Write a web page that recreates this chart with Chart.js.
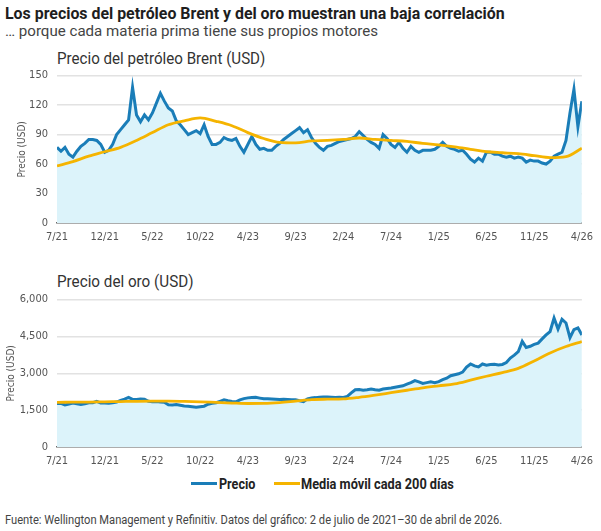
<!DOCTYPE html>
<html>
<head>
<meta charset="utf-8">
<script src="https://cdn.jsdelivr.net/npm/chart.js@4"></script>
<style>
  body { margin: 0; background: #fff; font-family: Roboto, "DejaVu Sans Condensed", sans-serif; }
  #page { position: relative; width: 601px; height: 531px; overflow: hidden; }
  .abs { position: absolute; white-space: nowrap; transform-origin: 0 0; line-height: 1; }
  #title { left: 5px; top: 6px; font-size: 16.5px; font-weight: bold; color: #1e1e1e; }
  #subtitle { left: 5px; top: 24px; font-size: 15px; color: #444; }
  .ctitle { left: 57px; font-size: 16px; color: #333; }
  .leg { top: 477px; font-size: 14px; font-weight: bold; color: #222; }
  .sw { top: 482px; width: 26px; height: 3px; }
  #source { left: 5px; top: 514px; font-size: 12.5px; color: #444; }
</style>
</head>
<body>
<div id="page">
  <div class="abs" id="title" data-w="500">Los precios del petróleo Brent y del oro muestran una baja correlación</div>
  <div class="abs" id="subtitle" data-w="373">… porque cada materia prima tiene sus propios motores</div>

  <div class="abs ctitle" style="top:51px" data-w="208">Precio del petróleo Brent (USD)</div>
  <canvas class="abs" id="chart_oil" width="601" height="190" style="left:0;top:60px"></canvas>

  <div class="abs ctitle" style="top:274px" data-w="136">Precio del oro (USD)</div>
  <canvas class="abs" id="chart_gold" width="601" height="190" style="left:0;top:284px"></canvas>

  <div class="abs sw" style="left:191px;background:#1a7db8"></div>
  <div class="abs leg" style="left:219px" data-w="36">Precio</div>
  <div class="abs sw" style="left:274px;background:#f5b400"></div>
  <div class="abs leg" style="left:301px" data-w="153">Media móvil cada 200 días</div>

  <div class="abs" id="source" data-w="497">Fuente: Wellington Management y Refinitiv. Datos del gráfico: 2 de julio de 2021–30 de abril de 2026.</div>
</div>

<script>
// x tick labels, one every 12 samples
const tickLabels = ['7/21', '12/21', '5/22', '10/22', '4/23', '9/23', '2/24', '7/24', '1/25', '6/25', '11/25', '4/26'];

// Brent price, sampled evenly along the x axis (133 samples)
const oilPrice = [
  77, 73, 77, 70, 67, 73, 78, 81, 85, 85, 84, 80,
  72, 74, 80, 90, 95, 100, 105, 138, 110, 103, 110, 105,
  112, 122, 132, 124, 117, 114, 104, 100, 95, 90, 92, 94,
  91, 100, 88, 80, 80, 82, 87, 85, 84, 86, 78, 72,
  80, 88, 80, 75, 76, 74, 74, 78, 81, 85, 88, 91,
  94, 97, 92, 95, 87, 81, 77, 74, 78, 79, 81, 83,
  84, 85, 86, 88, 93, 89, 85, 82, 80, 76, 90, 86,
  80, 77, 82, 76, 72, 78, 74, 72, 74, 74, 74, 75,
  78, 82, 78, 76, 75, 73, 74, 70, 65, 62, 66, 63,
  72, 72, 70, 70, 68, 67, 68, 66, 67, 66, 62, 64,
  63, 63, 61, 60, 63, 68, 70, 72, 84, 112, 136, 98,
  124
];

// Brent 200-day moving average, every 4th sample
const oilAvgX = [0, 4, 8, 12, 16, 20, 24, 28, 32, 36, 40, 44, 48, 52, 56, 60, 64,
                 68, 72, 76, 80, 84, 88, 92, 96, 100, 104, 108, 112, 116, 120, 124, 128, 132];
const oilAvg = [58, 62.5, 68, 72.5, 77, 84, 92, 100, 104, 107, 103.5, 99, 92, 86, 82, 81.5, 83.5,
                84, 85, 86.5, 85, 84, 83, 81, 79.5, 77.5, 75, 72.5, 71.5, 70.5, 68.5, 66.5, 67.5, 76];

// gold price, same sampling
const goldPrice = [
  1770, 1780, 1710, 1750, 1790, 1760, 1730, 1760, 1800, 1800, 1860, 1790,
  1790, 1780, 1800, 1830, 1900, 1950, 2020, 1940, 1930, 1950, 1940, 1860,
  1840, 1850, 1830, 1820, 1720, 1710, 1730, 1700, 1670, 1660, 1640, 1620,
  1640, 1660, 1740, 1780, 1800, 1860, 1920, 1880, 1850, 1840, 1920, 1970,
  2000, 2010, 2020, 1990, 1960, 1960, 1950, 1940, 1930, 1940, 1930, 1920,
  1920, 1880, 1850, 1960, 2000, 2010, 2030, 2040, 2040, 2030, 2020, 2030,
  2020, 2060, 2200, 2330, 2340, 2310, 2330, 2360, 2330, 2310, 2360, 2380,
  2400, 2430, 2460, 2490, 2560, 2620, 2700, 2650, 2590, 2620, 2650, 2620,
  2660, 2740, 2800, 2900, 2940, 2980, 3050, 3250, 3380, 3300, 3260, 3380,
  3330, 3360, 3370, 3340, 3360, 3440, 3620, 3740, 3880, 4300, 4050, 4100,
  4180, 4230, 4400, 4560, 4700, 5250, 4800, 5200, 5050, 4450, 4780, 4850,
  4560
];

// gold 200-day moving average
const goldAvgX = oilAvgX;
const goldAvg = [1820, 1825, 1830, 1840, 1850, 1860, 1865, 1865, 1855, 1840, 1815, 1790, 1770, 1775, 1810, 1870, 1930,
                 1945, 1955, 2020, 2110, 2210, 2310, 2410, 2490, 2570, 2720, 2880, 3030, 3200, 3500, 3830, 4090, 4290];

const FONT = '"DejaVu Sans Condensed", Roboto, sans-serif';
const BLUE = '#1a7db8';
const ORANGE = '#f5b400';

// squeeze html labels to the reference text widths (condensed face is not installed)
document.querySelectorAll('[data-w]').forEach(el => {
    const r = parseFloat(el.dataset.w) / el.offsetWidth;
    el.style.transform = 'scaleX(' + r + ')';
});

const toPoints = (xs, ys) => ys.map((y, i) => ({ x: xs ? xs[i] : i, y: y }));

const drawChart = (id, price, avgX, avg, yMax, yStep, yFmt, titlePad, topPad) => {
    new Chart(id, {
        type: 'line',
        data: {
            datasets: [
                {
                    label: 'Media móvil cada 200 días',
                    data: toPoints(avgX, avg),
                    borderColor: ORANGE,
                    borderWidth: 2.8,
                    fill: false,
                    cubicInterpolationMode: 'monotone'
                },
                {
                    label: 'Precio',
                    data: toPoints(null, price),
                    borderColor: BLUE,
                    borderWidth: 3,
                    backgroundColor: '#dcf3fa',
                    fill: 'origin',
                    tension: 0
                }
            ]
        },
        options: {
            responsive: false,
            animation: false,
            devicePixelRatio: 1,
            layout: { padding: { top: topPad, right: 15 } },
            elements: { point: { radius: 0 } },
            plugins: {
                legend: { display: false },
                tooltip: { enabled: false }
            },
            scales: {
                x: {
                    type: 'linear',
                    min: 0,
                    max: 132,
                    grid: { display: false, drawTicks: false },
                    border: { display: true, color: '#6b6b6b', width: 1.5 },
                    ticks: {
                        stepSize: 12,
                        padding: 8,
                        maxRotation: 0,
                        color: '#555',
                        font: { family: FONT, size: 11 },
                        callback: (value) => tickLabels[value / 12]
                    },
                    afterFit: (scale) => { scale.height = 27; }
                },
                y: {
                    min: 0,
                    max: yMax,
                    grid: { color: '#e2e2e2', lineWidth: 1.5, drawTicks: false },
                    border: { display: false },
                    ticks: {
                        stepSize: yStep,
                        padding: 9,
                        color: '#555',
                        font: { family: FONT, size: 11 },
                        callback: yFmt
                    },
                    title: {
                        display: true,
                        text: 'Precio (USD)',
                        color: '#555',
                        font: { family: FONT, size: 10 },
                        padding: { top: titlePad, bottom: 0 }
                    },
                    afterFit: (scale) => { scale.width = 57; }
                }
            }
        }
    });
};

drawChart('chart_oil', oilPrice, oilAvgX, oilAvg, 150, 30, (v) => v, 16, 11);
drawChart('chart_gold', goldPrice, goldAvgX, goldAvg, 6000, 1500, (v) => v.toLocaleString('en-US'), 5, 10);
</script>
</body>
</html>
